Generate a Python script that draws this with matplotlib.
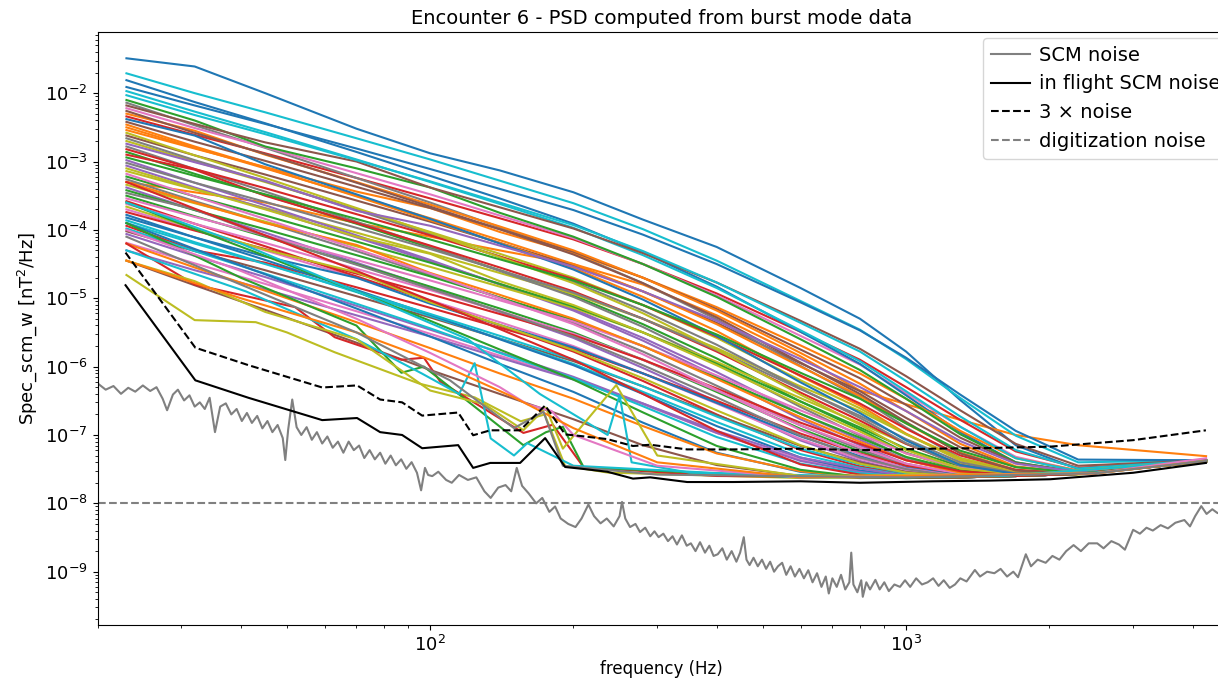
import numpy as np
import matplotlib
matplotlib.use("Agg")
import matplotlib.pyplot as plt

# frequency grid (Hz) shared by most burst spectra
burst_freq = [23, 32, 45, 70, 100, 140, 200, 280, 400, 600, 800, 1000, 1300, 1700, 2300, 4270]

# burst spectra, log10 of PSD in nT^2/Hz, one row per burst
burst_log_psd = [
    [-1.49, -1.61, -2.00, -2.52, -2.88, -3.13, -3.45, -3.85, -4.25, -4.85, -5.30, -5.78, -6.49, -7.15, -7.50, -7.38],
    [-3.30, -3.45, -3.60, -3.90, -4.10, -4.30, -4.50, -4.80, -5.25, -5.85, -6.35, -6.55, -6.78, -7.00, -7.15, -7.31],
    [-2.86, -3.18, -3.49, -3.91, -4.26, -4.59, -4.96, -5.38, -5.88, -6.51, -6.92, -7.26, -7.51, -7.58, -7.57, -7.38],
    [-2.34, -2.61, -2.88, -3.24, -3.54, -3.83, -4.14, -4.50, -4.93, -5.49, -5.90, -6.30, -6.78, -7.24, -7.48, -7.37],
    [-3.38, -3.71, -4.04, -4.48, -4.84, -5.20, -5.58, -6.02, -6.51, -7.08, -7.38, -7.54, -7.61, -7.60, -7.57, -7.39],
    [-2.62, -2.91, -3.19, -3.57, -3.88, -4.19, -4.52, -4.90, -5.36, -5.95, -6.36, -6.75, -7.18, -7.47, -7.55, -7.38],
    [-3.70, -4.00, -4.30, -4.70, -5.03, -5.35, -5.70, -6.10, -6.54, -7.06, -7.35, -7.51, -7.60, -7.60, -7.57, -7.38],
    [-2.14, -2.47, -2.80, -3.24, -3.60, -3.96, -4.34, -4.78, -5.31, -5.99, -6.46, -6.89, -7.34, -7.55, -7.57, -7.39],
    [-3.14, -3.41, -3.68, -4.04, -4.34, -4.63, -4.94, -5.30, -5.73, -6.29, -6.65, -6.99, -7.34, -7.52, -7.56, -7.38],
    [-1.71, -2.00, -2.28, -2.66, -2.97, -3.28, -3.61, -3.99, -4.45, -5.04, -5.46, -5.89, -6.46, -7.01, -7.40, -7.37],
    [-1.91, -2.18, -2.45, -2.81, -3.11, -3.40, -3.71, -4.07, -4.50, -5.06, -5.47, -5.87, -6.41, -6.94, -7.36, -7.37],
    [-2.46, -2.78, -3.09, -3.51, -3.86, -4.19, -4.56, -4.98, -5.48, -6.14, -6.57, -6.98, -7.37, -7.55, -7.57, -7.38],
    [-3.50, -3.80, -4.10, -4.50, -4.83, -5.15, -5.50, -5.90, -6.37, -6.91, -7.24, -7.45, -7.59, -7.60, -7.57, -7.39],
    [-3.58, -3.91, -4.24, -4.68, -5.04, -5.40, -5.78, -6.21, -6.70, -7.22, -7.46, -7.57, -7.61, -7.60, -7.57, -7.38],
    [-2.98, -3.31, -3.64, -4.08, -4.44, -4.80, -5.18, -5.62, -6.14, -6.77, -7.15, -7.42, -7.57, -7.60, -7.57, -7.39],
    [-4.02, -4.31, -4.59, -4.97, -5.28, -5.59, -5.92, -6.29, -6.71, -7.16, -7.40, -7.54, -7.61, -7.60, -7.57, -7.39],
    [-2.22, -2.51, -2.79, -3.17, -3.48, -3.79, -4.12, -4.50, -4.96, -5.55, -5.97, -6.39, -6.88, -7.32, -7.52, -7.38],
    [-3.26, -3.58, -3.89, -4.31, -4.66, -4.99, -5.36, -5.78, -6.28, -6.86, -7.21, -7.44, -7.58, -7.60, -7.57, -7.39],
    [-2.70, -3.00, -3.30, -3.70, -4.03, -4.35, -4.70, -5.10, -5.58, -6.20, -6.61, -6.99, -7.37, -7.55, -7.57, -7.38],
    [-3.86, -4.18, -4.49, -4.91, -5.26, -5.59, -5.96, -6.37, -6.81, -7.28, -7.48, -7.59, -7.62, -7.60, -7.57, -7.38],
    [-1.81, -2.13, -2.44, -2.86, -3.21, -3.54, -3.91, -4.33, -4.83, -5.49, -5.96, -6.42, -6.96, -7.40, -7.55, -7.38],
    [-2.54, -2.81, -3.08, -3.44, -3.68, -4.03, -4.34, -4.70, -5.13, -5.69, -6.10, -6.47, -6.94, -7.34, -7.52, -7.37],
    [-2.10, -2.40, -2.78, -3.10, -3.38, -3.75, -4.10, -4.50, -4.98, -5.60, -6.05, -6.47, -6.99, -7.40, -7.54, -7.38],
    [-3.94, -4.30, -4.48, -4.84, -5.14, -5.43, -5.74, -6.10, -6.50, -6.98, -7.27, -7.45, -7.57, -7.60, -7.57, -7.37],
    [-3.06, -3.38, -3.69, -4.11, -4.46, -4.79, -5.16, -5.58, -6.08, -6.69, -7.07, -7.36, -7.55, -7.59, -7.57, -7.38],
    [-2.42, -2.71, -2.99, -3.37, -3.68, -3.99, -4.32, -4.70, -5.16, -5.75, -6.17, -6.56, -7.04, -7.41, -7.54, -7.38],
    [-4.19, -4.49, -4.79, -5.19, -5.52, -5.84, -6.18, -6.55, -6.97, -7.36, -7.52, -7.61, -7.62, -7.60, -7.57, -7.38],
    [-2.78, -3.11, -3.44, -3.88, -4.24, -4.60, -4.98, -5.42, -5.95, -6.59, -7.01, -7.33, -7.54, -7.59, -7.57, -7.38],
    [-3.34, -3.61, -3.88, -4.24, -4.54, -4.83, -5.14, -5.50, -5.93, -6.46, -6.83, -7.13, -7.42, -7.57, -7.57, -7.38],
    [-1.97, -2.27, -2.57, -2.97, -3.30, -3.62, -3.97, -4.37, -4.85, -5.47, -5.92, -6.36, -6.88, -7.34, -7.53, -7.38],
    [-3.78, -4.11, -4.44, -4.88, -5.24, -5.60, -5.98, -6.40, -6.87, -7.33, -7.52, -7.60, -7.62, -7.60, -7.57, -7.38],
    [-2.30, -2.55, -2.90, -3.30, -3.63, -3.95, -4.30, -4.70, -5.18, -5.80, -6.25, -6.65, -7.13, -7.46, -7.56, -7.38],
    [-3.22, -3.51, -3.79, -4.17, -4.48, -4.79, -5.12, -5.50, -5.96, -6.51, -6.89, -7.20, -7.46, -7.57, -7.57, -7.37],
    [-2.90, -3.12, -3.50, -3.90, -4.23, -4.55, -4.90, -5.30, -5.78, -6.38, -6.79, -7.13, -7.44, -7.57, -7.57, -7.38],
    [-4.06, -4.38, -4.69, -5.11, -5.46, -5.79, -6.15, -6.54, -6.97, -7.38, -7.54, -7.62, -7.62, -7.60, -7.57, -7.38],
    [-2.18, -2.45, -2.72, -3.00, -3.38, -3.67, -3.98, -4.34, -4.77, -5.33, -5.74, -6.14, -6.64, -7.13, -7.45, -7.37],
    [-3.62, -3.91, -4.19, -4.57, -4.88, -5.19, -5.52, -5.90, -6.35, -6.86, -7.18, -7.42, -7.57, -7.60, -7.57, -7.37],
    [-2.66, -2.98, -3.29, -3.71, -4.06, -4.39, -4.76, -5.18, -5.68, -6.32, -6.75, -7.12, -7.45, -7.57, -7.57, -7.39],
    [-3.10, -3.40, -3.70, -4.10, -4.35, -4.75, -5.10, -5.50, -5.98, -6.56, -6.95, -7.27, -7.50, -7.58, -7.57, -7.39],
    [-2.03, -2.32, -2.60, -2.98, -3.29, -3.60, -3.93, -4.31, -4.77, -5.36, -5.78, -6.21, -6.73, -7.22, -7.49, -7.37],
    [-3.82, -4.11, -4.39, -4.70, -5.08, -5.39, -5.72, -6.10, -6.53, -7.02, -7.31, -7.48, -7.59, -7.60, -7.57, -7.39],
    [-2.50, -2.80, -3.10, -3.50, -3.83, -4.15, -4.50, -4.90, -5.38, -6.00, -6.43, -6.83, -7.26, -7.51, -7.57, -7.39],
    [-3.42, -3.71, -3.99, -4.37, -4.68, -4.99, -5.32, -5.70, -6.16, -6.69, -7.04, -7.32, -7.52, -7.59, -7.57, -7.38],
    [-2.82, -3.11, -3.39, -3.77, -4.08, -4.39, -4.72, -5.10, -5.56, -6.13, -6.54, -6.91, -7.30, -7.51, -7.57, -7.39],
    [-4.30, -4.59, -4.87, -5.25, -5.56, -5.87, -6.19, -6.54, -6.94, -7.33, -7.49, -7.60, -7.62, -7.60, -7.57, -7.38],
    [-2.26, -2.58, -2.89, -3.31, -3.66, -3.99, -4.36, -4.78, -5.28, -5.94, -6.40, -6.81, -7.27, -7.52, -7.57, -7.39],
    [-3.54, -3.81, -4.08, -4.44, -4.74, -5.03, -5.34, -5.70, -6.13, -6.64, -6.99, -7.27, -7.48, -7.58, -7.57, -7.38],
    [-3.02, -3.31, -3.59, -3.97, -4.28, -4.59, -4.92, -5.30, -5.76, -6.33, -6.72, -7.06, -7.40, -7.56, -7.57, -7.38],
    [-2.58, -2.91, -3.24, -3.68, -4.04, -4.40, -4.78, -5.22, -5.75, -6.41, -6.85, -7.22, -7.49, -7.58, -7.58, -7.38],
    [-3.90, -4.20, -4.50, -4.90, -5.23, -5.55, -5.90, -6.29, -6.73, -7.20, -7.43, -7.56, -7.62, -7.60, -7.57, -7.38],
    [-2.38, -2.62, -3.04, -3.48, -3.84, -4.20, -4.58, -5.02, -5.55, -6.23, -6.68, -7.08, -7.44, -7.57, -7.57, -7.39],
    [-3.30, -3.60, -3.90, -4.22, -4.63, -4.95, -5.30, -5.70, -6.18, -6.74, -7.10, -7.37, -7.55, -7.60, -7.57, -7.38],
    [-2.94, -3.21, -3.48, -3.84, -4.14, -4.43, -4.74, -5.10, -5.53, -6.09, -6.47, -6.83, -7.23, -7.47, -7.55, -7.37],
    [-3.74, -4.01, -4.28, -4.64, -4.94, -5.23, -5.54, -5.90, -6.32, -6.82, -7.13, -7.37, -7.53, -7.59, -7.57, -7.38],
    [-2.74, -3.01, -3.28, -3.72, -3.94, -4.23, -4.54, -4.90, -5.33, -5.89, -6.30, -6.65, -7.09, -7.42, -7.54, -7.37],
    [-4.45, -4.81, -5.17, -5.65, -6.05, -6.40, -6.77, -7.15, -7.44, -7.60, -7.63, -7.62, -7.62, -7.60, -7.57, -7.37],
    [-3.18, -3.51, -3.84, -4.28, -4.64, -5.00, -5.38, -5.82, -6.34, -6.93, -7.28, -7.49, -7.60, -7.60, -7.57, -7.38],
    [-3.46, -3.70, -4.09, -4.51, -4.86, -5.19, -5.56, -5.98, -6.45, -7.01, -7.33, -7.50, -7.61, -7.60, -7.57, -7.38],
    [-3.66, -3.98, -4.29, -4.62, -5.06, -5.39, -5.76, -6.17, -6.64, -7.15, -7.42, -7.55, -7.61, -7.60, -7.57, -7.39],
    [-3.98, -4.31, -4.64, -5.08, -5.44, -5.80, -6.17, -6.58, -7.03, -7.42, -7.56, -7.61, -7.62, -7.60, -7.57, -7.38],
    [-3.90, -4.28, -4.65, -5.15, -5.56, -5.96, -6.37, -6.82, -7.26, -7.54, -7.62, -7.63, -7.62, -7.60, -7.57, -7.38],
    [-4.20, -4.55, -4.89, -5.35, -5.73, -6.10, -6.47, -6.87, -7.27, -7.53, -7.61, -7.62, -7.62, -7.60, -7.57, -7.38],
    [-3.60, -3.99, -4.38, -4.90, -5.33, -5.75, -6.19, -6.67, -7.16, -7.51, -7.61, -7.63, -7.62, -7.60, -7.57, -7.38],
    [-3.30, -3.69, -4.08, -4.60, -5.03, -5.45, -5.90, -6.40, -6.94, -7.43, -7.58, -7.62, -7.62, -7.60, -7.57, -7.38],
]

# low-level bursts with narrow features off the common grid
olive_freq = [23, 32, 43, 50, 63, 95, 124, 155, 174, 192, 236, 600, 1600, 4270]
olive_log_psd = [-4.66, -5.32, -5.35, -5.50, -5.79, -6.25, -6.45, -6.80, -6.70, -7.45, -7.55, -7.63, -7.60, -7.38]
red_freq = [23, 32, 52, 63, 87, 97, 105, 157, 181, 210, 400, 1000, 2500, 4270]
red_log_psd = [-4.20, -4.80, -5.13, -5.57, -5.90, -5.87, -6.22, -6.97, -6.85, -7.47, -7.60, -7.62, -7.56, -7.38]
green_freq = [23, 40, 70, 87, 97, 157, 175, 190, 210, 500, 1000, 2500, 4270]
green_log_psd = [-3.90, -4.70, -5.40, -6.09, -6.00, -7.15, -6.96, -6.88, -7.47, -7.60, -7.62, -7.55, -7.38]
cyan_freq = [23, 41, 70, 96, 115, 124, 134, 150, 160, 200, 600, 1600, 4270]
cyan_log_psd = [-4.30, -4.90, -5.60, -6.10, -6.40, -5.95, -7.05, -7.30, -7.12, -7.45, -7.62, -7.60, -7.38]
cyan2_freq = [23, 40, 70, 120, 170, 236, 250, 265, 350, 1000, 2500, 4270]
cyan2_log_psd = [-3.60, -4.20, -4.90, -5.60, -6.40, -7.00, -6.42, -7.40, -7.55, -7.62, -7.55, -7.38]
yellow_freq = [23, 32, 45, 70, 100, 130, 157, 175, 190, 246, 300, 600, 2500, 4270]
yellow_log_psd = [-4.45, -4.75, -5.20, -5.60, -6.35, -6.55, -6.93, -6.60, -7.20, -6.27, -7.30, -7.60, -7.56, -7.38]
pink_freq = [23, 40, 70, 100, 140, 160, 180, 200, 300, 600, 2500, 4270]
pink_log_psd = [-4.00, -4.60, -5.30, -5.80, -6.30, -6.55, -6.65, -7.00, -7.45, -7.62, -7.56, -7.34]
orange_freq = [23, 40, 70, 100, 150, 200, 300, 600, 2500, 4270]
orange_log_psd = [-4.45, -5.00, -5.50, -5.90, -6.45, -6.90, -7.40, -7.62, -7.56, -7.38]
grey_freq = [23, 40, 70, 110, 150, 173, 190, 300, 1000, 2500, 4270]
grey_log_psd = [-4.10, -4.80, -5.50, -6.20, -6.90, -6.66, -7.45, -7.58, -7.62, -7.56, -7.38]

# ground-calibrated SCM noise (nT^2/Hz)
scm_freq = [
    20.0, 20.8, 21.6, 22.4, 23.2, 24.0, 24.9, 25.8, 26.6, 27.4,
    28.0, 28.8, 29.5, 30.4, 31.2, 32.0, 32.8, 33.6, 34.4, 35.3,
    36.2, 37.2, 38.2, 39.2, 40.2, 41.2, 42.2, 43.3, 44.4, 45.5,
    46.6, 47.8, 49.0, 49.6, 50.3, 51.3, 52.4, 53.6, 55.0, 56.4,
    57.8, 59.3, 60.8, 62.4, 64.0, 65.7, 67.4, 69.1, 70.9, 72.7,
    74.6, 76.5, 78.5, 80.5, 82.6, 84.7, 86.9, 89.1, 91.4, 93.8,
    95.7, 97.5, 99.0, 101, 104, 108, 111, 115, 120, 125,
    130, 134, 139, 144, 148, 152, 156, 161, 167, 172,
    178, 183, 188, 195, 202, 208, 215, 221, 228, 235,
    243, 250, 253, 257, 263, 270, 276, 283, 290, 296,
    302, 309, 316, 323, 330, 338, 346, 353, 361, 369,
    378, 386, 394, 402, 411, 420, 430, 440, 448, 456,
    462, 469, 478, 488, 498, 508, 518, 528, 538, 549,
    560, 572, 584, 597, 610, 623, 636, 650, 664, 678,
    688, 700, 715, 730, 745, 760, 767, 775, 790, 805,
    811, 825, 840, 862, 880, 900, 920, 945, 971, 995,
    1020, 1050, 1080, 1110, 1140, 1170, 1200, 1235, 1267, 1300,
    1340, 1395, 1430, 1480, 1533, 1580, 1630, 1680, 1719, 1785,
    1830, 1890, 1965, 2030, 2100, 2170, 2249, 2330, 2420, 2522,
    2600, 2700, 2800, 2883, 3000, 3100, 3200, 3300, 3427, 3550,
    3680, 3844, 3950, 4050, 4172, 4280, 4400, 4513, 4650, 4800,
]
scm_psd = [
    5.7e-7, 4.6e-7, 5.2e-7, 4.0e-7, 4.9e-7, 4.3e-7, 5.3e-7, 4.4e-7, 5.0e-7, 3.4e-7,
    2.3e-7, 3.9e-7, 4.6e-7, 3.2e-7, 3.8e-7, 2.6e-7, 3.0e-7, 2.4e-7, 3.5e-7, 1.1e-7,
    2.6e-7, 2.9e-7, 2.0e-7, 2.4e-7, 1.6e-7, 2.1e-7, 1.5e-7, 1.9e-7, 1.25e-7, 1.6e-7,
    1.1e-7, 1.4e-7, 9.0e-8, 4.3e-8, 1.2e-7, 3.3e-7, 1.3e-7, 1.0e-7, 1.3e-7, 8.5e-8,
    1.1e-7, 7.5e-8, 9.5e-8, 6.5e-8, 8.0e-8, 5.5e-8, 8.0e-8, 6.0e-8, 7.0e-8, 4.6e-8,
    6.0e-8, 4.4e-8, 5.5e-8, 3.8e-8, 5.0e-8, 3.6e-8, 4.4e-8, 3.2e-8, 4.0e-8, 2.8e-8,
    1.55e-8, 3.3e-8, 2.6e-8, 2.5e-8, 2.9e-8, 2.2e-8, 2.0e-8, 2.6e-8, 2.2e-8, 2.4e-8,
    1.5e-8, 1.2e-8, 1.7e-8, 1.85e-8, 1.5e-8, 3.3e-8, 1.8e-8, 1.4e-8, 1.0e-8, 1.2e-8,
    7.5e-9, 9.0e-9, 6.0e-9, 5.0e-9, 4.5e-9, 6.0e-9, 9.6e-9, 6.5e-9, 5.1e-9, 6.0e-9,
    4.6e-9, 6.5e-9, 1.05e-8, 6.0e-9, 4.5e-9, 5.0e-9, 3.8e-9, 4.4e-9, 3.3e-9, 3.9e-9,
    3.2e-9, 3.6e-9, 2.8e-9, 3.3e-9, 2.5e-9, 3.4e-9, 2.4e-9, 2.6e-9, 2.0e-9, 2.7e-9,
    1.9e-9, 2.4e-9, 1.7e-9, 1.8e-9, 2.2e-9, 1.5e-9, 2.0e-9, 1.4e-9, 1.9e-9, 3.2e-9,
    1.5e-9, 1.25e-9, 1.6e-9, 1.2e-9, 1.5e-9, 1.1e-9, 1.4e-9, 1.0e-9, 1.2e-9, 1.35e-9,
    9.0e-10, 1.2e-9, 8.5e-10, 1.1e-9, 8.0e-10, 1.05e-9, 7.0e-10, 9.5e-10, 6.0e-10, 8.5e-10,
    4.8e-10, 8.0e-10, 6.0e-10, 9.0e-10, 5.5e-10, 7.0e-10, 1.9e-9, 6.5e-10, 5.0e-10, 7.5e-10,
    4.3e-10, 7.0e-10, 5.5e-10, 7.6e-10, 5.5e-10, 7.0e-10, 5.2e-10, 6.5e-10, 6.0e-10, 7.5e-10,
    6.0e-10, 8.0e-10, 6.5e-10, 7.0e-10, 8.0e-10, 6.2e-10, 7.5e-10, 5.8e-10, 6.5e-10, 8.0e-10,
    7.2e-10, 1.06e-9, 8.5e-10, 1.0e-9, 9.5e-10, 1.1e-9, 8.5e-10, 1.0e-9, 8.3e-10, 1.8e-9,
    1.2e-9, 1.5e-9, 1.35e-9, 1.7e-9, 1.5e-9, 2.0e-9, 2.45e-9, 2.0e-9, 2.6e-9, 2.6e-9,
    2.2e-9, 2.8e-9, 2.5e-9, 2.1e-9, 4.1e-9, 3.6e-9, 4.4e-9, 4.0e-9, 4.8e-9, 4.3e-9,
    5.2e-9, 5.7e-9, 4.6e-9, 6.5e-9, 9.1e-9, 7.0e-9, 8.2e-9, 7.2e-9, 7.8e-9, 8.5e-9,
]

# in flight SCM noise (nT^2/Hz)
flight_freq = [22.9, 32.1, 41.5, 59.3, 70.2, 78.5, 87.3, 96.2, 114.5, 123.1,
               133.7, 154.5, 174.4, 192.1, 208.6, 235.5, 266.8, 289.9, 346.7, 433.3,
               600, 800, 1139, 1500, 2007, 3000, 4266]
flight_psd = [1.55e-5, 6.3e-7, 3.5e-7, 1.65e-7, 1.77e-7, 1.1e-7, 1.0e-7, 6.4e-8, 7.1e-8, 3.3e-8,
              3.9e-8, 3.9e-8, 9.0e-8, 3.4e-8, 3.2e-8, 2.9e-8, 2.3e-8, 2.4e-8, 2.05e-8, 2.05e-8,
              2.1e-8, 2.0e-8, 2.1e-8, 2.15e-8, 2.25e-8, 2.8e-8, 3.9e-8]
noise_factor = 3
digitization_level = 1e-8

special_bursts = [
    (olive_freq, olive_log_psd, 'C8'),
    (red_freq, red_log_psd, 'C3'),
    (green_freq, green_log_psd, 'C2'),
    (cyan_freq, cyan_log_psd, 'C9'),
    (cyan2_freq, cyan2_log_psd, 'C9'),
    (yellow_freq, yellow_log_psd, 'C8'),
    (pink_freq, pink_log_psd, 'C6'),
    (orange_freq, orange_log_psd, 'C1'),
    (grey_freq, grey_log_psd, 'C7'),
]

plt.rcParams['font.size'] = 12

fig = plt.figure(figsize=(12.18, 6.79), dpi=100)
# right edge of the axes runs just past the figure, as in the cropped original
ax = fig.add_axes([0.0801, 0.0795, 0.9264, 0.8729])

for row in burst_log_psd:
    ax.plot(burst_freq, 10 ** np.array(row), lw=1.5)
for f, v, c in special_bursts:
    ax.plot(f, 10 ** np.array(v), color=c, lw=1.5)

ax.plot(scm_freq, scm_psd, color='gray', lw=1.5, label='SCM noise')
ax.plot(flight_freq, flight_psd, color='black', lw=1.5, label='in flight SCM noise')
ax.plot(flight_freq, noise_factor * np.array(flight_psd), color='black', ls='--', lw=1.5,
        label='3 \u00d7 noise')
ax.axhline(digitization_level, color='gray', ls='--', lw=1.5, label='digitization noise')

ax.set_xscale('log')
ax.set_yscale('log')
ax.set_xlim(20, 4700)
ax.set_ylim(1.66e-10, 7.76e-2)

ax.set_title('Encounter 6 - PSD computed from burst mode data', fontsize=14)
ax.set_xlabel('frequency (Hz)', fontsize=12)
ax.set_ylabel('Spec_scm_w [nT$^2$/Hz]', fontsize=13)
ax.tick_params(labelsize=13)
ax.legend(loc='upper left', bbox_to_anchor=(983 / 1218, 1 - 38 / 679),
          bbox_transform=fig.transFigure, borderaxespad=0, handletextpad=0.5,
          fontsize=14)

fig.savefig('out.png', dpi=100)
